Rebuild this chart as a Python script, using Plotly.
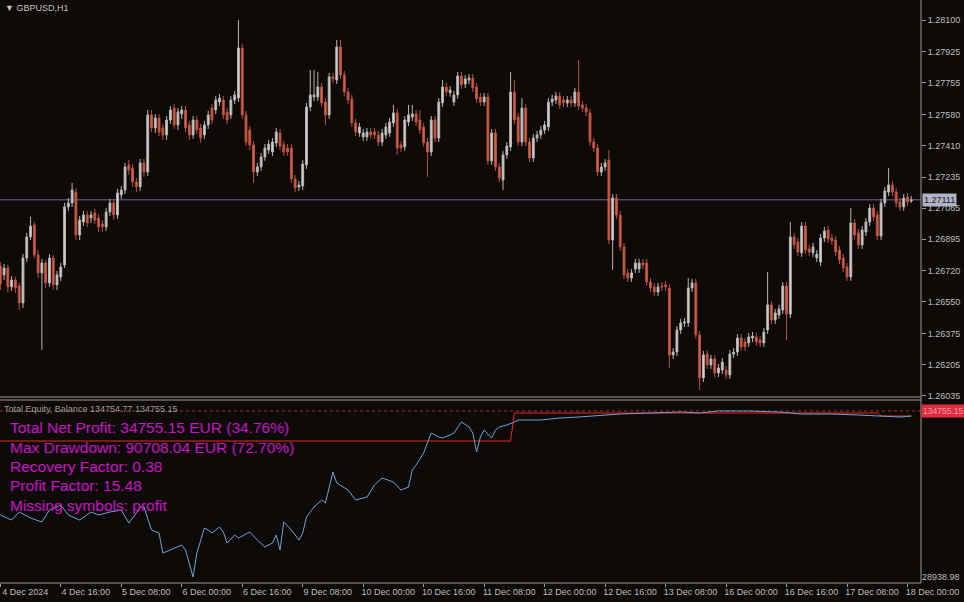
import plotly.graph_objects as go

# ---------------- data (prices in points, 1 point = 0.00001) ----------------
OPEN_POINTS = [
    126747,126698,126736,126632,126670,126637,126544,126791,126907,126973,
    126808,126709,126764,126654,126791,126643,126687,126753,127072,127094,
    127154,126918,126989,127028,127011,127039,127011,126978,126962,127044,
    127094,127028,127138,127165,127303,127286,127209,127182,127314,127264,
    127578,127506,127561,127506,127468,127550,127616,127523,127583,127605,
    127523,127468,127550,127506,127468,127523,127616,127605,127649,127660,
    127594,127578,127660,127671,127946,127578,127495,127413,127264,127292,
    127347,127385,127374,127424,127479,127413,127396,127396,127226,127182,
    127187,127303,127622,127677,127677,127732,127649,127578,127787,127770,
    127952,127798,127704,127666,127534,127479,127457,127457,127484,127484,
    127468,127429,127468,127479,127534,127589,127413,127402,127539,127567,
    127583,127550,127512,127429,127374,127550,127451,127644,127732,127699,
    127649,127688,127792,127748,127770,127781,127732,127677,127649,127677,
    127325,127479,127292,127220,127358,127402,127704,127567,127429,127616,
    127429,127341,127451,127468,127495,127512,127649,127660,127682,127660,
    127644,127660,127644,127704,127633,127616,127589,127429,127396,127264,
    127292,127330,126890,127121,127028,126852,126709,126681,126731,126731,
    126764,126764,126659,126632,126604,126637,126643,126626,126258,126274,
    126395,126434,126434,126626,126654,126368,126131,126263,126203,126236,
    126159,126175,126175,126148,126263,126274,126351,126329,126324,126351,
    126357,126340,126324,126395,126533,126450,126478,126505,126637,126483,
    126907,126879,126819,126967,126841,126819,126791,126769,126901,126945,
    126901,126890,126835,126791,126742,126687,126984,126929,126863,126934,
    126989,127066,127028,126912,127094,127154,127193,127154,127099,127072,
    127127,127105,
]
HIGH_POINTS = [
    126769,126758,126753,126692,126687,126654,126813,126929,127017,126989,
    126835,126786,126780,126813,126808,126720,126764,127094,127121,127204,
    127176,127022,127050,127050,127050,127061,127033,127000,127066,127116,
    127116,127171,127187,127314,127330,127308,127231,127336,127336,127605,
    127605,127583,127583,127528,127572,127627,127638,127616,127627,127627,
    127545,127572,127572,127528,127545,127600,127638,127682,127693,127682,
    127616,127682,127710,128100,127968,127600,127517,127435,127314,127369,
    127418,127440,127451,127506,127501,127435,127418,127418,127248,127215,
    127330,127644,127825,127825,127814,127754,127671,127809,127809,127990,
    127990,127820,127726,127688,127556,127534,127501,127506,127506,127506,
    127490,127501,127534,127561,127633,127611,127435,127572,127633,127633,
    127605,127605,127534,127451,127572,127572,127671,127770,127754,127737,
    127710,127814,127814,127798,127803,127803,127754,127699,127699,127699,
    127501,127501,127314,127380,127429,127814,127770,127589,127671,127638,
    127451,127473,127490,127517,127545,127671,127688,127704,127704,127682,
    127682,127682,127726,127880,127655,127638,127611,127451,127418,127314,
    127336,127385,127143,127143,127050,126874,126731,126731,126786,126786,
    126786,126786,126681,126654,126654,126659,126665,126648,126296,126417,
    126456,126461,126681,126676,126676,126390,126280,126285,126258,126258,
    126208,126241,126197,126285,126296,126373,126373,126351,126379,126384,
    126379,126362,126406,126714,126555,126511,126533,126659,126659,126989,
    126929,126901,126989,126989,126863,126874,126835,126923,126962,126967,
    126923,126912,126857,126813,126764,127066,127006,126951,126967,127011,
    127088,127088,127050,127116,127182,127286,127215,127176,127121,127143,
    127149,127132,
]
LOW_POINTS = [
    126615,126670,126604,126610,126599,126505,126516,126769,126890,126791,
    126681,126285,126626,126632,126615,126615,126665,126736,127050,127072,
    126890,126890,126967,126962,126984,126978,126934,126934,126940,127022,
    127000,127006,127116,127143,127248,127182,127154,127160,127237,127242,
    127484,127479,127462,127440,127440,127528,127501,127495,127556,127484,
    127440,127446,127473,127424,127446,127501,127528,127583,127627,127556,
    127528,127556,127638,127649,127556,127407,127385,127204,127242,127270,
    127325,127363,127352,127402,127385,127352,127352,127204,127154,127160,
    127165,127281,127600,127655,127655,127622,127523,127556,127754,127748,
    127776,127682,127638,127512,127462,127457,127435,127435,127446,127446,
    127407,127407,127446,127457,127512,127358,127374,127380,127517,127545,
    127517,127473,127402,127237,127352,127429,127429,127622,127682,127677,
    127627,127666,127721,127726,127748,127704,127644,127627,127627,127303,
    127303,127270,127209,127165,127336,127380,127528,127407,127407,127407,
    127319,127319,127429,127446,127473,127490,127627,127638,127611,127622,
    127622,127622,127622,127605,127594,127572,127407,127374,127242,127242,
    127270,126868,126725,127006,126830,126676,126659,126659,126709,126709,
    126731,126637,126604,126582,126582,126610,126610,126186,126236,126252,
    126373,126412,126412,126604,126346,126065,126109,126181,126181,126137,
    126137,126153,126126,126126,126241,126252,126280,126280,126302,126329,
    126307,126302,126302,126373,126428,126428,126456,126483,126340,126461,
    126841,126802,126797,126813,126802,126797,126769,126747,126879,126874,
    126863,126802,126758,126714,126665,126665,126896,126841,126841,126912,
    126967,126995,126890,126890,127072,127132,127132,127072,127050,127050,
    127077,127094,
]
CLOSE_POINTS = [
    126648,126736,126632,126670,126626,126544,126791,126907,126967,126808,
    126709,126764,126654,126791,126643,126698,126742,127072,127094,127165,
    126918,127000,127028,126984,127028,127000,126962,126962,127044,127094,
    127028,127149,127165,127292,127275,127209,127182,127314,127264,127578,
    127506,127561,127484,127468,127550,127605,127523,127594,127605,127506,
    127468,127550,127495,127451,127523,127578,127550,127660,127671,127578,
    127550,127660,127688,127946,127578,127429,127413,127264,127292,127347,
    127396,127418,127429,127484,127407,127374,127374,127226,127176,127193,
    127308,127622,127688,127688,127732,127644,127578,127787,127776,127952,
    127798,127704,127660,127534,127484,127512,127479,127484,127468,127468,
    127429,127479,127512,127539,127589,127396,127396,127550,127578,127583,
    127539,127495,127424,127374,127550,127451,127649,127732,127704,127715,
    127688,127792,127743,127776,127781,127726,127666,127649,127677,127325,
    127479,127292,127231,127358,127407,127704,127550,127429,127616,127429,
    127341,127451,127468,127495,127523,127649,127666,127682,127633,127644,
    127660,127644,127704,127627,127616,127594,127429,127396,127264,127292,
    127314,126890,127121,127028,126852,126698,126681,126709,126764,126764,
    126753,126659,126626,126604,126632,126632,126632,126258,126274,126395,
    126434,126439,126626,126654,126368,126131,126258,126203,126236,126159,
    126186,126219,126148,126263,126274,126351,126302,126302,126357,126362,
    126329,126324,126384,126533,126450,126489,126511,126637,126483,126907,
    126863,126824,126967,126835,126824,126852,126813,126901,126940,126896,
    126885,126824,126780,126736,126687,126984,126918,126863,126945,126989,
    127066,127017,126912,127094,127160,127193,127154,127094,127072,127121,
    127099,127111,
]
CURRENT_PRICE = 1.27111

PRICE_TICKS = [1.28100, 1.27925, 1.27755, 1.27580, 1.27410, 1.27235, 1.27065,
               1.26895, 1.26720, 1.26550, 1.26375, 1.26205, 1.26035]

TIME_TICK_BARS = [0, 16, 32, 48, 64, 80, 96, 112, 128, 144, 160, 176, 192, 208, 224, 240]
TIME_TICK_LABELS = ["4 Dec 2024", "4 Dec 16:00", "5 Dec 08:00", "6 Dec 00:00",
                    "6 Dec 16:00", "9 Dec 08:00", "10 Dec 00:00", "10 Dec 16:00",
                    "11 Dec 08:00", "12 Dec 00:00", "12 Dec 16:00", "13 Dec 08:00",
                    "16 Dec 00:00", "16 Dec 16:00", "17 Dec 08:00", "18 Dec 00:00"]

EQUITY_BARS = [0, 3, 5, 8, 11, 13, 16, 18, 21, 24, 26, 29, 32, 34, 36, 37, 38, 40, 42, 43,
               45, 48, 49, 51, 52, 54, 55, 56, 58, 59, 60, 62, 63, 66, 68, 70, 72, 73, 74, 75,
               77, 79, 80, 81, 83, 85, 86, 88, 89, 92, 94, 97, 99, 101, 104, 106, 108, 109, 110, 112,
               113, 114, 116, 117, 119, 120, 122, 124, 125, 126, 127, 128, 130, 131, 132, 134, 136, 137, 143, 148,
               153, 159, 164, 172, 180, 185, 190, 198, 206, 212, 220, 227, 233, 238, 241]
EQUITY = [68465, 65278, 70378, 66553, 64004, 71652, 74839, 68465, 65278, 70378,
          68465, 70378, 71652, 63366, 69740, 73565, 73565, 58904, 56992, 44244,
          46156, 49343, 46156, 28938.98, 44244, 60179, 58904, 56992, 60817, 57630,
          50618, 55717, 53805, 57630, 52530, 48069, 50618, 55717, 46156, 64004,
          58904, 52530, 56992, 67191, 73565, 78026, 76114, 95874, 88862, 84400,
          78026, 79939, 87587, 92049, 89500, 84400, 86313, 97148, 100335, 107984,
          114358, 120732, 118183, 117545, 119457, 120732, 127744, 124557, 120732, 108622,
          118183, 122644, 117545, 122644, 124557, 125831, 127744, 129018, 129018, 130293,
          130931, 132205, 132843, 133480, 134118, 133480, 134755, 134755, 134118, 132843,
          132843, 132205, 131568, 130931, 131568]

BALANCE_BARS = [0, 135, 136, 232, 233, 241]
BALANCE = [115633, 115633, 133480, 133480, 131568, 131568]

EQUITY_NOW = 134754.77
BALANCE_NOW = 134755.15
EQUITY_MIN = 28938.98

STATS = ["Total Net Profit: 34755.15 EUR (34.76%)",
         "Max Drawdown: 90708.04 EUR (72.70%)",
         "Recovery Factor: 0.38",
         "Profit Factor: 15.48",
         "Missing symbols: profit"]

# ---------------- styling / layout ----------------
BG = "#0d0a08"
AXIS_TXT = "#bdbdbd"
FRAME = "#9a9a9a"
FONT = "Liberation Sans, Arial, sans-serif"

W, H = 964, 602
ML, MR, MT, MB = 0, 43, 0, 19
PW, PH = W - ML - MR, H - MT - MB          # plot area 921 x 583
MAIN_BOTTOM_PX, SUB_TOP_PX = 397, 400
DOM_MAIN = [(PH - MAIN_BOTTOM_PX) / PH, 1.0]
DOM_SUB = [0.0, (PH - SUB_TOP_PX) / PH]

X_RANGE = [-0.08, 243.57]
Y_MAIN_RANGE = [1.260265, 1.28210]
Y_SUB_RANGE = [25122, 141766]


def py(px):
    """plot-area pixel row -> paper y"""
    return (PH - px) / PH


bars = list(range(len(OPEN_POINTS)))
fig = go.Figure()
fig.add_trace(go.Candlestick(
    x=bars,
    open=[v / 1e5 for v in OPEN_POINTS],
    high=[v / 1e5 for v in HIGH_POINTS],
    low=[v / 1e5 for v in LOW_POINTS],
    close=[v / 1e5 for v in CLOSE_POINTS],
    xaxis="x", yaxis="y",
    increasing=dict(line=dict(color="#b4b4b4", width=1), fillcolor="#d2d2d2"),
    decreasing=dict(line=dict(color="#b8503e", width=1), fillcolor="#e0604b"),
    whiskerwidth=0, hoverinfo="skip", showlegend=False))

fig.add_trace(go.Scatter(x=BALANCE_BARS, y=BALANCE, mode="lines", xaxis="x2", yaxis="y2",
                         line=dict(color="#f02418", width=1), hoverinfo="skip", showlegend=False))
fig.add_trace(go.Scatter(x=EQUITY_BARS, y=EQUITY, mode="lines", xaxis="x2", yaxis="y2",
                         line=dict(color="#6fa3d8", width=1), hoverinfo="skip", showlegend=False))

shapes = [
    dict(type="line", xref="paper", yref="y", x0=0, x1=1, y0=CURRENT_PRICE, y1=CURRENT_PRICE,
         line=dict(color="#6a6a9c", width=1), layer="below"),
    dict(type="line", xref="paper", yref="y2", x0=0, x1=1, y0=BALANCE_NOW, y1=BALANCE_NOW,
         line=dict(color="#a83030", width=1, dash="dot"), layer="below"),
    dict(type="line", xref="paper", yref="paper", x0=1, x1=1, y0=0, y1=1,
         line=dict(color=FRAME, width=1)),
    dict(type="line", xref="paper", yref="paper", x0=0, x1=1, y0=DOM_MAIN[0], y1=DOM_MAIN[0],
         line=dict(color=FRAME, width=1)),
    dict(type="line", xref="paper", yref="paper", x0=0, x1=1, y0=DOM_SUB[1], y1=DOM_SUB[1],
         line=dict(color=FRAME, width=1)),
    dict(type="line", xref="paper", yref="paper", x0=0, x1=1, y0=0, y1=0,
         line=dict(color=FRAME, width=1)),
]

annotations = [
    dict(xref="paper", yref="paper", x=3 / PW, y=py(8), xanchor="left", yanchor="middle",
         text="▼ GBPUSD,H1", showarrow=False, font=dict(family=FONT, size=9, color="#c4c4c4")),
    dict(xref="paper", yref="paper", x=2 / PW, y=py(409), xanchor="left", yanchor="middle",
         text=f"Total Equity, Balance {EQUITY_NOW:.2f} {BALANCE_NOW:.2f}", showarrow=False,
         font=dict(family=FONT, size=9, color="#9c9c9c")),
    dict(xref="paper", yref="y", x=1, y=CURRENT_PRICE, xanchor="left", yanchor="middle",
         xshift=1, text=f"{CURRENT_PRICE:.5f}", showarrow=False, bgcolor="#b0b2c6",
         borderpad=1, font=dict(family=FONT, size=9, color="#1a1a2a")),
    dict(xref="paper", yref="y2", x=1, y=BALANCE_NOW, xanchor="left", yanchor="middle",
         xshift=0, text=f"{BALANCE_NOW:.2f}", showarrow=False, bgcolor="#e02c40",
         borderpad=1, font=dict(family=FONT, size=8.5, color="#ff9aa6")),
]
for k, line in enumerate(STATS):
    annotations.append(dict(xref="paper", yref="paper", x=8 / PW, y=py(428 + 19.3 * k),
                            xanchor="left", yanchor="middle", text=line, showarrow=False,
                            font=dict(family=FONT, size=15.5, color="#cc10cc")))

axis_font = dict(family=FONT, size=9, color=AXIS_TXT)
fig.update_layout(
    width=W, height=H, margin=dict(l=ML, r=MR, t=MT, b=MB),
    paper_bgcolor=BG, plot_bgcolor=BG, showlegend=False, template="none",
    font=dict(family=FONT),
    xaxis=dict(domain=[0, 1], anchor="y", range=X_RANGE, showticklabels=False, ticks="",
               showgrid=False, zeroline=False, showline=False, rangeslider=dict(visible=False),
               automargin=False),
    yaxis=dict(domain=DOM_MAIN, anchor="x", side="right", range=Y_MAIN_RANGE,
               tickmode="array", tickvals=PRICE_TICKS, ticktext=[f"{v:.5f}" for v in PRICE_TICKS],
               ticks="outside", ticklen=4, tickcolor=FRAME, tickfont=axis_font,
               showgrid=False, zeroline=False, showline=False, automargin=False),
    xaxis2=dict(domain=[0, 1], anchor="y2", range=X_RANGE, tickmode="array",
                tickvals=TIME_TICK_BARS, ticktext=TIME_TICK_LABELS, ticks="outside", ticklen=3,
                tickcolor=FRAME, tickfont=axis_font, ticklabelshift=25, ticklabelstandoff=-3,
                showgrid=False, zeroline=False, showline=False, automargin=False),
    yaxis2=dict(domain=DOM_SUB, anchor="x2", side="right", range=Y_SUB_RANGE,
                tickmode="array", tickvals=[EQUITY_MIN], ticktext=[f"{EQUITY_MIN:.2f}"],
                ticks="", tickfont=axis_font, showgrid=False, zeroline=False, showline=False,
                automargin=False),
    shapes=shapes, annotations=annotations,
)

fig.write_html("out.html", config={"displayModeBar": False},
               post_script="document.body.style.margin='0';document.body.style.background='"
                           + BG + "';")
